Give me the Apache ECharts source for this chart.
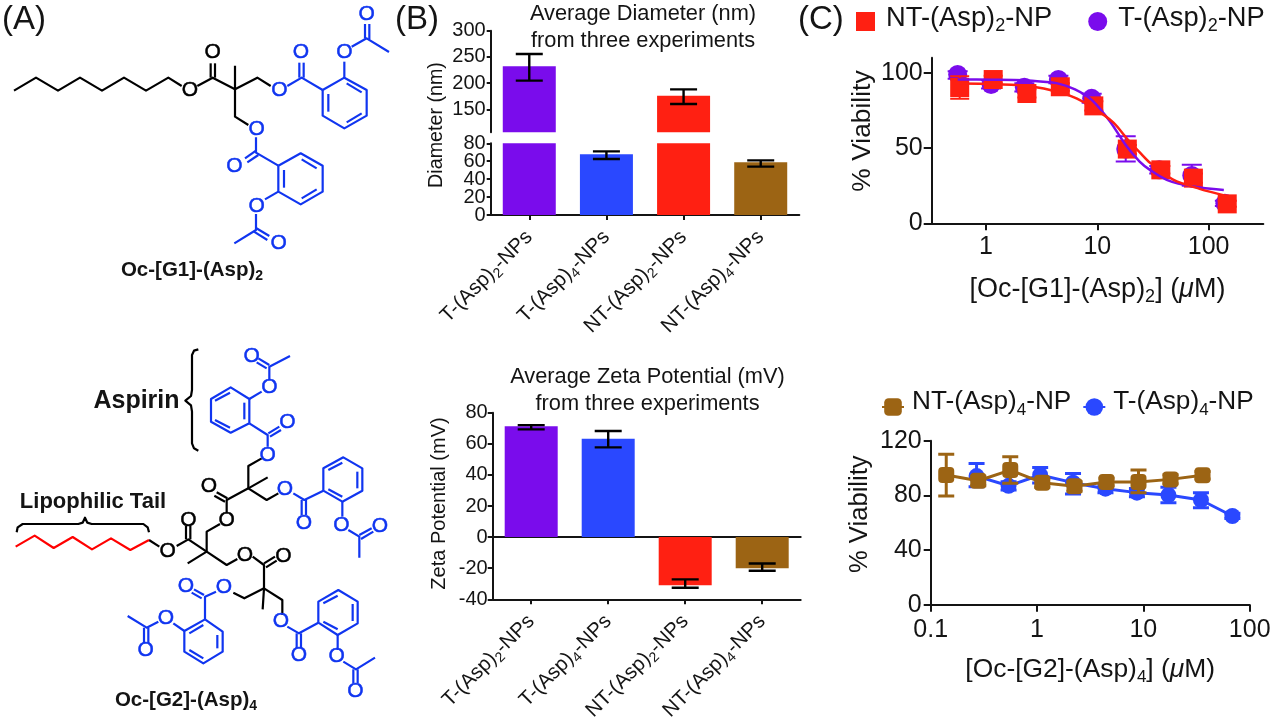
<!DOCTYPE html>
<html>
<head>
<meta charset="utf-8">
<style>html,body{margin:0;padding:0;background:#fff}#c{width:1274px;height:717px}</style>
<script src="https://cdn.jsdelivr.net/npm/echarts@6/dist/echarts.min.js"></script>
</head>
<body>
<div id="c"></div>
<script>
// ---------- data ----------
const categories = ['T-(Asp)2-NPs', 'T-(Asp)4-NPs', 'NT-(Asp)2-NPs', 'NT-(Asp)4-NPs'];
const diameterMean = [232, 67.7, 176, 58.8];
const diameterLow = [204.6, 62.5, 160, 54];
const diameterHigh = [255.5, 71, 188, 61];
const zetaMean = [71.3, 63.3, -31, -20];
const zetaLow = [69.3, 57.7, -32.6, -21.6];
const zetaHigh = [72, 68.2, -27.2, -17];

const g1PurpleX = [0.556, 1.11, 2.21, 4.47, 8.9, 18, 36, 70.6, 140];
const g1PurpleY = [98.9, 92.2, 90.4, 95.5, 83, 49.3, 35.5, 31.8, 13.3];
const g1PurpleLow = [96, 89.5, 87.5, 93, 80, 41.1, 33, 25, 11.5];
const g1PurpleHigh = [101, 95, 93, 98, 86, 57.8, 38, 38.9, 15];
const g1RedX = [0.58, 1.16, 2.33, 4.65, 9.3, 18.6, 37.2, 73, 147];
const g1RedY = [90.2, 95.5, 86.2, 90.7, 78, 49.3, 35.5, 30, 12.9];
const g1RedLow = [82.7, 93, 83.5, 88, 75, 46, 33, 27, 11];
const g1RedHigh = [97.7, 98, 89, 93, 81, 52, 38, 33, 15];
const g1PurpleCurveX = [0.556, 1.11, 2.21, 3.27, 4.47, 6.3, 8.9, 13, 18, 24, 29.7, 42, 72, 137];
const g1PurpleCurveY = [95.6, 95.4, 95, 94, 92.8, 89, 82, 67.7, 52, 41, 35.5, 28.9, 24.4, 22.2];
const g1RedCurveX = [0.58, 1.16, 2.33, 3.3, 4.65, 6.5, 9.3, 13.9, 18.6, 24.3, 30, 48, 83, 147];
const g1RedCurveY = [92.8, 92.5, 91.2, 89.5, 86.8, 83, 76.5, 67, 56, 46.8, 40, 29, 22.9, 18];

const g2BrownX = [0.14, 0.28, 0.56, 1.12, 2.25, 4.5, 9, 18, 36];
const g2BrownY = [94.9, 90.7, 98.5, 89.3, 86.6, 89.8, 89.8, 91.7, 94.7];
const g2BrownLow = [79.5, 87, 88.8, 86, 83, 87, 82, 88.5, 92];
const g2BrownHigh = [110, 94, 108.3, 92.5, 90, 92.5, 98.5, 95, 97.5];
const g2BlueX = [0.27, 0.54, 1.07, 2.18, 4.4, 8.7, 17.2, 34.8, 68.7];
const g2BlueY = [94.1, 87, 94.9, 89.3, 84.9, 82, 80.2, 76.6, 64.9];
const g2BlueLow = [86.3, 84, 89, 81, 82, 79, 74.6, 71, 63];
const g2BlueHigh = [103.4, 90, 100.4, 96, 88, 85, 86, 82, 67];

const diameterUpperTicks = [150, 200, 250, 300];
const diameterLowerTicks = [0, 20, 40, 60, 80];
const diameterLowerLabelsA = [0, 40, 80];
const diameterLowerLabelsB = [20, 60];
const g1XTicks = [1, 10, 100];
const g1YTicks = [0, 50, 100];

// ---------- style ----------
const FONT = '"Liberation Sans", Arial, sans-serif';
const INK = '#141414';
const PURPLE = '#7A0CEC', BLUE = '#2A48FF', RED = '#FF2012', BROWN = '#9C6414', MOLBLUE = '#1035F0';
const barColors = [PURPLE, BLUE, RED, BROWN];

function richSet(size) {
  const lh = Math.round(size * 1.25);
  const sub = Math.round(size * 0.66);
  return {
    a: {fontSize: size, lineHeight: lh, fontFamily: FONT, color: INK},
    s: {fontSize: sub, lineHeight: lh, fontFamily: FONT, color: INK, verticalAlign: 'bottom'},
    i: {fontSize: size, lineHeight: lh, fontFamily: FONT, color: INK, fontStyle: 'italic'},
    b: {fontSize: size, lineHeight: lh, fontFamily: FONT, color: INK, fontWeight: 'bold'},
    t: {fontSize: sub, lineHeight: lh, fontFamily: FONT, color: INK, fontWeight: 'bold', verticalAlign: 'bottom'}
  };
}
// turns "(Asp)2" into rich text with a subscript
function subs(text) {
  return text.replace(/^(.*\(Asp\))(\d)(.*)$/, '{a|$1}{s|$2}{a|$3}');
}

const axisLineStyle = {color: INK, width: 2};
function valueAxis(grid, size, margin, tickLen, extra) {
  return Object.assign({
    type: 'value', gridIndex: grid, splitLine: {show: false},
    axisLine: {show: true, onZero: false, lineStyle: axisLineStyle},
    axisTick: {show: true, length: tickLen, lineStyle: axisLineStyle},
    axisLabel: {fontSize: size, fontFamily: FONT, color: INK, margin: margin, hideOverlap: false, showMinLabel: true, showMaxLabel: true}
  }, extra);
}
function categoryAxis(grid, extra) {
  return Object.assign({
    type: 'category', gridIndex: grid, data: categories,
    axisLine: {show: true, onZero: false, lineStyle: axisLineStyle},
    axisTick: {show: true, length: 5, alignWithLabel: true, lineStyle: axisLineStyle},
    axisLabel: {
      interval: 0, rotate: 45, margin: 19, formatter: subs, rich: richSet(20.5)
    }
  }, extra);
}
function logAxis(grid, extra) {
  return Object.assign({
    type: 'log', logBase: 10, gridIndex: grid, splitLine: {show: false}, minorTick: {show: false},
    axisLine: {show: true, onZero: false, lineStyle: axisLineStyle},
    axisTick: {show: true, length: 7, lineStyle: axisLineStyle},
    axisLabel: {fontSize: 25, fontFamily: FONT, color: INK, margin: 13}
  }, extra);
}

function errorSeries(xI, yI, rows, color, capPx, width, z) {
  return {
    type: 'custom', xAxisIndex: xI, yAxisIndex: yI, clip: true, z: z, silent: true,
    encode: {x: 0, y: [1, 2]}, data: rows,
    renderItem(params, api) {
      const lo = api.coord([api.value(0), api.value(1)]);
      const hi = api.coord([api.value(0), api.value(2)]);
      const st = {stroke: color, lineWidth: width, fill: null};
      const seg = (x1, y1, x2, y2) => ({type: 'line', shape: {x1, y1, x2, y2}, style: st});
      return {type: 'group', children: [
        seg(lo[0], lo[1], hi[0], hi[1]),
        seg(lo[0] - capPx / 2, lo[1], lo[0] + capPx / 2, lo[1]),
        seg(hi[0] - capPx / 2, hi[1], hi[0] + capPx / 2, hi[1])
      ]};
    }
  };
}
const zipRows = (x, a, b) => x.map((v, i) => [v, a[i], b[i]]);
const zipXY = (x, y) => x.map((v, i) => [v, y[i]]);
const colored = vals => vals.map((v, i) => ({value: v, itemStyle: {color: barColors[i]}}));
const idx = categories.map((c, i) => i);

// ---------- panel A drawing (decoration, not chart data) ----------
const M1 = p => p.map(([x, y]) => [x / 3, y / 3]);
const M2 = p => p.map(([x, y]) => [x / 3, 330 + y / 3]);
const mol1Black = [
  [[42,272],[108,233],[174,272],[240,233],[306,272],[372,233],[438,272],[505,233],[545,258]],
  [[592,258],[638,233],[705,268]], [[632,233],[632,190]], [[645,233],[645,190]],
  [[705,197],[705,350],[745,375]], [[705,268],[772,233],[812,258]]
];
const mol1Blue = [
  [[862,258],[905,233],[968,270]], [[898,233],[898,188]], [[911,233],[911,188]],
  [[968,270],[1033,233],[1100,270],[1100,347],[1033,385],[968,347],[968,270]],
  [[985,282],[985,335]], [[1040,250],[1085,277]], [[1040,367],[1085,340]],
  [[1033,233],[1033,185]], [[1055,140],[1100,115],[1167,156]], [[1095,115],[1095,72]], [[1108,118],[1108,72]],
  [[768,412],[768,458],[835,497]], [[768,452],[735,475]], [[775,465],[742,487]],
  [[835,497],[902,460],[968,497],[968,575],[902,613],[835,575],[835,497]],
  [[852,510],[852,563]], [[905,478],[950,505]], [[905,595],[950,568]],
  [[835,575],[795,598]], [[768,642],[768,690],[703,730]], [[768,684],[808,708]], [[762,695],[802,720]]
];
const mol1OBlack = [[570,272],[638,158]];
const mol1OBlue = [[838,272],[770,388],[903,158],[1033,158],[1100,42],[703,498],[770,618],[836,730]];

const mol2Red = [[[47,650],[104,617],[161,654],[218,621],[276,658],[333,625],[391,660],[447,630]]];
const mol2Black = [
  [[447,630],[478,650]], [[530,648],[565,628],[620,665],[563,700]], [[558,628],[558,588]], [[571,628],[571,588]],
  [[660,582],[620,605],[620,665],[680,705],[712,687]],
  [[680,548],[680,510],[745,475],[803,442]], [[682,505],[650,487]], [[675,515],[643,497]],
  [[785,385],[745,408],[745,475],[800,510],[835,490]],
  [[758,680],[792,705],[792,775],[788,838]], [[792,700],[825,680]], [[798,712],[830,692]],
  [[700,788],[733,805],[792,775],[847,810],[847,855]],
  // braces
  [[595,58],[582,62],[576,75],[576,180],[573,198],[556,212],[573,226],[576,245],[576,340],[582,355],[595,362]],
  [[50,607],[53,592],[68,582],[235,582],[248,578],[255,563],[262,578],[275,582],[430,582],[443,592],[447,607]]
];
const mol2Blue = [
  [[803,350],[803,315],[748,280]], [[805,310],[838,290]], [[810,320],[843,300]],
  [[748,280],[748,207],[692,172],[633,207],[633,275],[692,308],[748,280]],
  [[733,218],[733,268]], [[645,212],[690,188]], [[645,270],[690,293]],
  [[748,207],[785,185]], [[808,150],[808,110],[870,78]], [[808,105],[775,85]], [[800,115],[770,97]],
  [[880,490],[913,510],[970,482]], [[905,510],[905,555]], [[918,510],[918,555]],
  [[970,482],[1027,515],[1087,482],[1087,415],[1030,382],[970,415],[970,482]],
  [[985,420],[1027,398]], [[1072,425],[1072,475]], [[985,478],[1027,500]],
  [[1027,515],[1027,560]], [[1045,600],[1078,620],[1078,683]], [[1078,615],[1115,595]], [[1083,627],[1120,605]],
  [[648,785],[615,800],[615,868]], [[612,795],[582,778]], [[605,805],[575,788]],
  [[615,868],[553,903],[553,965],[610,1000],[668,965],[668,905],[615,868]],
  [[568,910],[610,885]], [[652,915],[652,955]], [[568,960],[610,985]],
  [[553,903],[520,880]], [[475,875],[440,893],[383,858]], [[432,893],[432,940]], [[445,893],[445,940]],
  [[862,890],[897,910],[955,878]], [[890,910],[890,955]], [[903,910],[903,955]],
  [[955,878],[955,815],[1015,780],[1073,815],[1073,880],[1013,915],[955,878]],
  [[970,820],[1013,797]], [[1058,822],[1058,873]], [[970,875],[1013,898]],
  [[1013,915],[1013,960]], [[1030,995],[1068,1018],[1125,983]], [[1060,1018],[1060,1060]], [[1073,1018],[1073,1060]]
];
const mol2OBlack = [[503,663],[565,570],[680,572],[627,470],[735,675],[850,680]];
const mol2OBlue = [[803,375],[855,478],[862,278],[808,172],[755,78],[912,580],[1024,585],[1140,588],[672,772],[558,768],[498,865],[437,962],[843,875],[897,977],[1010,980],[1066,1083]];

function bonds(lines, map, color) {
  return lines.map(l => ({
    type: 'polyline', silent: true, shape: {points: map(l)},
    style: {stroke: color, lineWidth: 2.2, fill: null, lineJoin: 'round'}
  }));
}
function atoms(list, map, color) {
  return map(list).map(([x, y]) => ({
    type: 'text', silent: true, x, y,
    style: {text: 'O', fontSize: 21, fontFamily: FONT, fill: color, stroke: color, lineWidth: 0.5, align: 'center', verticalAlign: 'middle'}
  }));
}
function label(x, y, text, rich, extra) {
  return Object.assign({
    type: 'text', silent: true, x, y,
    style: Object.assign({text, rich, align: 'center', verticalAlign: 'middle', fontFamily: FONT, fill: INK}, extra || {})
  });
}
const drawing = [].concat(
  bonds(mol1Black, M1, '#000'), bonds(mol1Blue, M1, MOLBLUE),
  atoms(mol1OBlack, M1, '#000'), atoms(mol1OBlue, M1, MOLBLUE),
  bonds(mol2Black, M2, '#000'), bonds(mol2Blue, M2, MOLBLUE), bonds(mol2Red, M2, '#FF0000'),
  atoms(mol2OBlack, M2, '#000'), atoms(mol2OBlue, M2, MOLBLUE),
  [
    label(192, 270, '{b|Oc-[G1]-(Asp)}{t|2}', richSet(20.5)),
    label(186, 700, '{b|Oc-[G2]-(Asp)}{t|4}', richSet(20.5)),
    label(136.5, 401, '{b|Aspirin}', richSet(25)),
    label(93, 502, '{b|Lipophilic Tail}', richSet(22))
  ]
);

const titleStyle = {fontSize: 21.8, fontWeight: 'normal', fontFamily: FONT, color: INK, lineHeight: 26.5};
const panelStyle = {fontSize: 33, fontWeight: 'normal', fontFamily: FONT, color: INK};
const yNameStyle = (size, padding) => ({fontSize: size, fontFamily: FONT, color: INK, padding});

function legendFmt(name) { return subs(name); }

const option = {
  animation: false,
  backgroundColor: '#fff',
  title: [
    {text: '(A)', left: 2, top: 3, padding: 0, textStyle: panelStyle},
    {text: '(B)', left: 395, top: 3, padding: 0, textStyle: panelStyle},
    {text: '(C)', left: 798, top: 3, padding: 0, textStyle: panelStyle},
    {text: 'Average Diameter (nm)\nfrom three experiments', left: 643, top: 1, padding: 0, textAlign: 'center', textStyle: titleStyle},
    {text: 'Average Zeta Potential (mV)\nfrom three experiments', left: 647.5, top: 364, padding: 0, textAlign: 'center', textStyle: titleStyle}
  ],
  legend: [
    {
      left: 856, top: 5, itemGap: 36, itemWidth: 19, itemHeight: 19, padding: 0, selectedMode: false,
      data: [{name: 'NT-(Asp)2-NP', icon: 'rect'}, {name: 'T-(Asp)2-NP', icon: 'circle'}],
      formatter: legendFmt, textStyle: {rich: richSet(27.3), padding: [0, 0, 6, 6]}
    },
    {
      left: 881, top: 389, itemGap: 11, itemWidth: 22, itemHeight: 22, padding: 0, selectedMode: false,
      data: ['NT-(Asp)4-NP', 'T-(Asp)4-NP'],
      formatter: legendFmt, textStyle: {rich: richSet(26.2), padding: [0, 0, 10, 3]}
    }
  ],
  grid: [
    {left: 490.7, top: 30.7, width: 308.6, height: 101.6, outerBoundsMode: 'none'},
    {left: 490.7, top: 143.3, width: 308.6, height: 71.7, outerBoundsMode: 'none'},
    {left: 492.7, top: 412.7, width: 308, height: 186.6, outerBoundsMode: 'none'},
    {left: 931.7, top: 57.7, width: 331.6, height: 165.6, outerBoundsMode: 'none'},
    {left: 930.7, top: 440.7, width: 319, height: 164, outerBoundsMode: 'none'}
  ],
  xAxis: [
    categoryAxis(0, {axisLine: {show: false}, axisTick: {show: false}, axisLabel: {show: false}}),
    categoryAxis(1, {}),
    categoryAxis(2, {position: 'bottom'}),
    categoryAxis(2, {position: 'top', axisLine: {show: true, onZero: true, lineStyle: axisLineStyle}, axisTick: {show: false}, axisLabel: {show: false}}),
    logAxis(3, {
      min: 0.325, max: 310,
      axisTick: {show: true, length: 7, lineStyle: axisLineStyle, customValues: g1XTicks},
      axisLabel: {fontSize: 25, fontFamily: FONT, color: INK, margin: 11.5, customValues: g1XTicks},
      name: '{a|[Oc-[G1]-(Asp)}{s|2}{a|] (}{i|\u03bc}{a|M)}', nameLocation: 'middle', nameGap: 49,
      nameTextStyle: {rich: richSet(27)}
    }),
    logAxis(4, {
      min: 0.1, max: 100,
      name: '{a|[Oc-[G2]-(Asp)}{s|4}{a|] (}{i|\u03bc}{a|M)}', nameLocation: 'middle', nameGap: 48.5,
      nameTextStyle: {rich: richSet(26.4)}
    })
  ],
  yAxis: [
    valueAxis(0, 20, 5, 4, {
      min: 106, max: 300,
      axisTick: {show: true, length: 4, lineStyle: axisLineStyle, customValues: diameterUpperTicks},
      axisLabel: {fontSize: 20, fontFamily: FONT, color: INK, margin: 5, customValues: diameterUpperTicks},
      name: 'Diameter (nm)', nameLocation: 'middle', nameGap: 44, nameTextStyle: yNameStyle(19.7, [0, 87, 0, 0])
    }),
    valueAxis(1, 20, 5, 4, {
      min: 0, max: 80, position: 'left',
      axisTick: {show: true, length: 4, lineStyle: axisLineStyle, customValues: diameterLowerTicks},
      axisLabel: {fontSize: 20, fontFamily: FONT, color: INK, margin: 5, showMinLabel: true, showMaxLabel: true, customValues: diameterLowerLabelsA}
    }),
    valueAxis(2, 20, 5, 5, {
      min: -40, max: 80, interval: 20,
      name: 'Zeta Potential (mV)', nameLocation: 'middle', nameGap: 43, nameTextStyle: yNameStyle(20, [0, 0, 0, 5])
    }),
    valueAxis(3, 25, 9, 8, {
      min: 0, max: 110,
      axisTick: {show: true, length: 8, lineStyle: axisLineStyle, customValues: g1YTicks},
      axisLabel: {fontSize: 25, fontFamily: FONT, color: INK, margin: 9, customValues: g1YTicks},
      name: '% Viability', nameLocation: 'middle', nameGap: 56, nameTextStyle: yNameStyle(26.4, [0, 0, 0, 19])
    }),
    valueAxis(4, 25, 9, 7, {
      min: 0, max: 120, interval: 40,
      name: '% Viability', nameLocation: 'middle', nameGap: 58, nameTextStyle: yNameStyle(25.6, [0, 0, 0, 17])
    }),
    // the tightly spaced 20 and 60 labels of the lower diameter axis
    valueAxis(1, 20, 5, 4, {
      min: 0, max: 80, position: 'left',
      axisLine: {show: false}, axisTick: {show: false},
      axisLabel: {fontSize: 20, fontFamily: FONT, color: INK, margin: 5, showMinLabel: true, showMaxLabel: true, customValues: diameterLowerLabelsB}
    })
  ],
  series: [
    {type: 'bar', name: 'Diameter upper', xAxisIndex: 0, yAxisIndex: 0, barWidth: 53, clip: true, silent: true, data: colored(diameterMean)},
    {type: 'bar', name: 'Diameter lower', xAxisIndex: 1, yAxisIndex: 1, barWidth: 53, clip: true, silent: true, data: colored(diameterMean)},
    errorSeries(0, 0, zipRows(idx, diameterLow, diameterHigh), '#000', 27, 2.4, 5),
    errorSeries(1, 1, zipRows(idx, diameterLow, diameterHigh), '#000', 27, 2.4, 5),
    {type: 'bar', name: 'Zeta', xAxisIndex: 2, yAxisIndex: 2, barWidth: 53, silent: true, data: colored(zetaMean)},
    errorSeries(2, 2, zipRows(idx, zetaLow, zetaHigh), '#000', 27, 2.4, 5),

    errorSeries(4, 3, zipRows(g1PurpleX, g1PurpleLow, g1PurpleHigh), PURPLE, 20, 2, 3),
    {type: 'scatter', name: 'T-(Asp)2-NP', xAxisIndex: 4, yAxisIndex: 3, symbol: 'circle', symbolSize: 19, z: 4, silent: true,
      itemStyle: {color: PURPLE, opacity: 1}, data: zipXY(g1PurpleX, g1PurpleY)},
    errorSeries(4, 3, zipRows(g1RedX, g1RedLow, g1RedHigh), RED, 19, 2, 5),
    {type: 'scatter', name: 'NT-(Asp)2-NP', xAxisIndex: 4, yAxisIndex: 3, symbol: 'rect', symbolSize: 19, z: 6, silent: true,
      itemStyle: {color: RED, opacity: 1}, data: zipXY(g1RedX, g1RedY)},
    {type: 'line', name: 'T fit', xAxisIndex: 4, yAxisIndex: 3, showSymbol: false, smooth: 0.3, z: 7, silent: true,
      lineStyle: {color: PURPLE, width: 2.5}, data: zipXY(g1PurpleCurveX, g1PurpleCurveY)},
    {type: 'line', name: 'NT fit', xAxisIndex: 4, yAxisIndex: 3, showSymbol: false, smooth: 0.3, z: 8, silent: true,
      lineStyle: {color: RED, width: 2.5}, data: zipXY(g1RedCurveX, g1RedCurveY)},

    errorSeries(5, 4, zipRows(g2BlueX, g2BlueLow, g2BlueHigh), BLUE, 16, 3, 3),
    {type: 'line', name: 'T-(Asp)4-NP', xAxisIndex: 5, yAxisIndex: 4, symbol: 'circle', symbolSize: 16, z: 4, silent: true,
      itemStyle: {color: BLUE}, lineStyle: {color: BLUE, width: 3}, data: zipXY(g2BlueX, g2BlueY)},
    errorSeries(5, 4, zipRows(g2BrownX, g2BrownLow, g2BrownHigh), BROWN, 16, 3, 5),
    {type: 'line', name: 'NT-(Asp)4-NP', xAxisIndex: 5, yAxisIndex: 4, symbol: 'roundRect', symbolSize: 16, z: 6, silent: true,
      itemStyle: {color: BROWN}, lineStyle: {color: BROWN, width: 3}, data: zipXY(g2BrownX, g2BrownY)}
  ],
  graphic: {elements: drawing}
};
const chart = echarts.init(document.getElementById('c'), null, {renderer: 'canvas', width: 1274, height: 717});
chart.setOption(option);
</script>
</body>
</html>
